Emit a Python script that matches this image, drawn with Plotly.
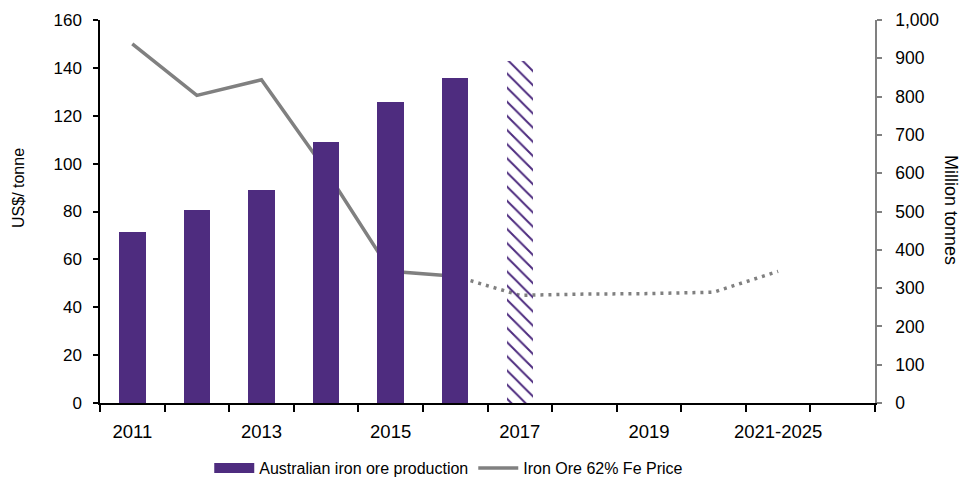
import plotly.graph_objects as go

# Categories along the horizontal axis (one extra empty slot follows the last)
categories = ["2011", "2012", "2013", "2014", "2015", "2016", "2017",
              "2018", "2019", "2020", "2021-2025"]

# Australian iron ore production, million tonnes (2017 is a forecast)
production = [447, 504, 556, 681, 786, 849, 893, None, None, None, None]
production_forecast = [False, False, False, False, False, False, True,
                       False, False, False, False]

# Iron Ore 62% Fe price, US$/tonne: actuals and forecast path
price_actual = [150, 128.5, 135, 97, 55, 53]
price_forecast = [53, 45, 45.5, 45.7, 46.3, 55]

PURPLE = "#4E2C7F"
GREY = "#808080"
FONT = "Liberation Sans Narrow, Arial Narrow, Liberation Sans, Arial, sans-serif"

n_slots = len(categories) + 1
xpos = list(range(len(categories)))
actual_x = xpos[:len(price_actual)]
forecast_x = xpos[len(price_actual) - 1:len(price_actual) - 1 + len(price_forecast)]

fig = go.Figure()

fig.add_trace(go.Bar(
    x=xpos, y=production, yaxis="y2", width=0.41,
    marker=dict(
        color=PURPLE, line=dict(width=0),
        pattern=dict(shape=["\\" if f else "" for f in production_forecast],
                     size=10, solidity=0.2, fillmode="replace"),
    ),
    showlegend=False, hoverinfo="skip",
))

fig.add_trace(go.Scatter(
    x=actual_x, y=price_actual, mode="lines",
    line=dict(color=GREY, width=3.5),
    showlegend=False, hoverinfo="skip",
))
fig.add_trace(go.Scatter(
    x=forecast_x, y=price_forecast, mode="lines",
    line=dict(color=GREY, width=3.5, dash="3px,5px"),
    showlegend=False, hoverinfo="skip",
))

# Legend entries
fig.add_trace(go.Scatter(
    x=[None], y=[None], mode="lines", name="Australian iron ore production",
    line=dict(color=PURPLE, width=10),
))
fig.add_trace(go.Scatter(
    x=[None], y=[None], mode="lines", name="Iron Ore 62% Fe Price",
    line=dict(color=GREY, width=3.5),
))

label_idx = list(range(0, len(categories), 2))

fig.update_layout(
    width=963, height=485,
    margin=dict(l=100, r=88, t=20, b=82, autoexpand=False),
    paper_bgcolor="white", plot_bgcolor="white",
    font=dict(family=FONT, size=17, color="black"),
    bargap=0,
    xaxis=dict(
        range=[-0.5, n_slots - 0.5],
        tickmode="array", tickvals=label_idx,
        ticktext=[categories[i] for i in label_idx],
        ticks="outside", ticklen=11, tickcolor="rgba(0,0,0,0)",
        tickfont=dict(size=18.5),
        minor=dict(tickmode="array",
                   tickvals=[i - 0.5 for i in range(n_slots + 1)],
                   ticks="outside", ticklen=7, tickwidth=1.5, tickcolor="black"),
        showline=True, linecolor="black", linewidth=1.5,
        showgrid=False, zeroline=False, fixedrange=True, automargin=False,
    ),
    yaxis=dict(
        range=[0, 160], dtick=20,
        ticks="outside", ticklen=5, tickwidth=1.5, tickcolor="black",
        ticklabelstandoff=8,
        tickfont=dict(size=17),
        showline=True, linecolor="black", linewidth=1.5,
        showgrid=False, zeroline=False, automargin=False,
    ),
    yaxis2=dict(
        range=[0, 1000], dtick=100, tickformat=",",
        overlaying="y", side="right",
        ticks="outside", ticklen=5, tickwidth=1.5, tickcolor=GREY,
        ticklabelstandoff=10,
        tickfont=dict(size=17.5),
        showline=True, linecolor=GREY, linewidth=1.5,
        showgrid=False, zeroline=False, automargin=False,
    ),
    legend=dict(
        orientation="h", x=0.45, xanchor="center", y=-0.17, yanchor="middle",
        font=dict(size=16), itemwidth=40, bgcolor="rgba(0,0,0,0)",
    ),
    annotations=[
        dict(text="US$/ tonne", xref="paper", yref="paper",
             x=-0.106, y=0.561, textangle=-90, showarrow=False,
             font=dict(size=16), xanchor="center", yanchor="middle"),
        dict(text="Million tonnes", xref="paper", yref="paper",
             x=1.1135, y=0.504, textangle=90, showarrow=False,
             font=dict(size=18), xanchor="right", yanchor="middle"),
    ],
)

fig.write_html("out.html")
